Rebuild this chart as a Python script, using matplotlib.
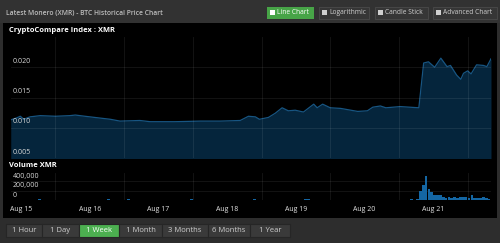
import matplotlib.pyplot as plt
from matplotlib.patches import Rectangle
import numpy as np

# price, days since Aug 15 00:00
price_t = [-0.15, -0.07, -0.01, 0.04, 0.13, 0.28, 0.50, 0.71, 0.79, 0.93,
           1.15, 1.30, 1.44, 1.73, 1.88, 2.24, 2.61, 2.90, 3.19, 3.31,
           3.41, 3.47, 3.60, 3.70, 3.80, 3.89, 3.99, 4.11, 4.26, 4.31,
           4.39, 4.50, 4.65, 4.80, 4.90, 5.04, 5.12, 5.23, 5.31, 5.52,
           5.79, 5.86, 5.93, 6.02, 6.11, 6.20, 6.25, 6.34, 6.40, 6.44,
           6.50, 6.55, 6.63, 6.73, 6.78, 6.84]
price_v = [0.0113, 0.0116, 0.0119, 0.0114, 0.0118, 0.0120, 0.0119, 0.0120, 0.0121, 0.0119,
           0.0116, 0.0114, 0.0111, 0.0112, 0.0110, 0.0110, 0.0111, 0.0111, 0.0112, 0.0119,
           0.0118, 0.0114, 0.0117, 0.0124, 0.0133, 0.0128, 0.0129, 0.0126, 0.0139, 0.0133,
           0.0139, 0.0133, 0.0132, 0.0129, 0.0127, 0.0128, 0.0134, 0.0136, 0.0133, 0.0135,
           0.0133, 0.0207, 0.0209, 0.0200, 0.0215, 0.0201, 0.0203, 0.0187, 0.0180, 0.0190,
           0.0194, 0.0189, 0.0204, 0.0203, 0.0201, 0.0214]

# hourly volume (thousands), first bar Aug 14 21:00
vol_k = [6, 8, 5,
         7, 9, 6, 8, 10, 7, 22, 9, 6, 8, 7, 6, 9, 8, 7, 6, 8, 9, 7, 6, 8, 7, 9, 6,
         8, 7, 6, 9, 8, 7, 25, 8, 6, 7, 9, 8, 6, 22, 7, 8, 6, 9, 7, 8, 6, 7, 9, 8,
         6, 7, 8, 9, 6, 7, 8, 6, 9, 7, 8, 20, 6, 7, 9, 8, 6, 7, 8, 9, 6, 7, 8, 6,
         9, 7, 6, 8, 7, 9, 6, 8, 7, 22, 8, 6, 7, 9, 8, 6, 7, 8, 9, 6, 7, 8, 6, 9,
         7, 8, 6, 28, 24, 7, 8, 9, 6, 7, 8, 6, 9, 7, 8, 6, 7, 9, 8, 6, 7, 8, 9, 6,
         7, 8, 6, 9, 7, 8, 6, 7, 9, 8, 6, 7, 8, 9, 6, 7, 12, 10, 14, 180, 310, 500,
         230, 170, 110, 100, 110, 60, 50, 55, 50, 55, 50, 55, 60, 55, 50, 100, 50, 45,
         50, 65, 40, 20]
vol_t = [(-3 + i) / 24 for i in range(len(vol_k))]
vol = [v * 1000 for v in vol_k]

days = [0, 1, 2, 3, 4, 5, 6]
day_labels = ["Aug 15", "Aug 16", "Aug 17", "Aug 18", "Aug 19", "Aug 20", "Aug 21"]
price_ticks = [0.005, 0.010, 0.015, 0.020]
vol_ticks = [0, 200000, 400000]
vol_tick_labels = ["0", "200,000", "400,000"]
top_buttons = ["Line Chart", "Logarithmic", "Candle Stick", "Advanced Chart"]
range_buttons = ["1 Hour", "1 Day", "1 Week", "1 Month", "3 Months", "6 Months", "1 Year"]

W, H = 500, 243
plt.rcParams['font.family'] = ["Open Sans", "DejaVu Sans"]

fig = plt.figure(figsize=(W / 100, H / 100), dpi=100, facecolor='#2d2d2d')


def box(x0, y0, x1, y1, fc, ec='none', lw=0.6, z=-5):
    # pixel box, y measured from top
    fig.patches.append(Rectangle((x0 / W, 1 - y1 / H), (x1 - x0) / W, (y1 - y0) / H,
                                 transform=fig.transFigure, facecolor=fc,
                                 edgecolor=ec, linewidth=lw, zorder=z))


def ptext(x, y, s, **kw):
    fig.text(x / W, 1 - y / H, s, **kw)


# header + black panel
box(0, 0, 500, 23, '#323232')
box(3, 23, 497, 218, '#000000')
box(0, 218, 500, 243, '#2d2d2d')
ptext(6, 14, "Latest Monero (XMR) - BTC Historical Price Chart", color='#bdbdbd',
      fontsize=4.9, va='center', ha='left', fontweight='semibold')

# top buttons
tb = [(267, 314), (319, 369), (375, 428), (433, 497)]
for (a, b), name in zip(tb, top_buttons):
    green = name == "Line Chart"
    box(a, 7, b, 19, '#47a447' if green else '#363636', '#4a4a4a' if not green else 'none')
    box(a + 3, 10.5, a + 8, 15.5, '#ffffff' if green else '#cfcfcf', z=-4)
    ptext(a + 10, 13, name, color='#ffffff' if green else '#d0d0d0', fontsize=4.8,
          va='center', ha='left')

ptext(9, 30, "CryptoCompare Index : XMR", color='white', fontsize=5.4,
      fontweight='bold', va='center', ha='left')
ptext(9, 165, "Volume XMR", color='white', fontsize=5.4,
      fontweight='bold', va='center', ha='left')

grid_kw = dict(color='#ffffff', alpha=0.09, lw=0.6)
xlim = (-0.146, 6.84)

# price panel
ax = fig.add_axes([11 / W, 1 - 158 / H, 480 / W, 121 / H])
ax.set_facecolor('none')
ax.fill_between(price_t, price_v, 0.0, color='#05253c', lw=0)
ax.plot(price_t, price_v, color='#175582', lw=0.9)
ax.set_xlim(*xlim)
ax.set_ylim(0.005, 0.025)
ax.set_yticks(price_ticks)
ax.set_xticks([d + 0.5 for d in days])
ax.grid(True, **grid_kw)
ax.set_axisbelow(False)
ax.tick_params(length=0, labelleft=False, labelbottom=False)
for s in ax.spines.values():
    s.set_visible(False)
for v in price_ticks:
    ax.text(0.003, v + 0.0004, "%.3f" % v, transform=ax.get_yaxis_transform(),
            color='#d8d8d8', fontsize=5.0, va='bottom', ha='left')

# volume panel
axv = fig.add_axes([11 / W, 1 - 200 / H, 480 / W, 27 / H])
axv.set_facecolor('none')
axv.bar(vol_t, vol, width=1 / 24 * 0.95, color='#1466a3', align='edge', lw=0)
axv.set_xlim(*xlim)
axv.set_ylim(0, 570000)
axv.set_yticks(vol_ticks)
axv.set_xticks(days)
axv.set_xticklabels(day_labels, color='#e0e0e0', fontsize=5.0)
axv.set_xticks([d + 0.5 for d in days], minor=True)
axv.grid(True, which='minor', axis='x', **grid_kw)
axv.grid(True, which='major', axis='y', **grid_kw)
axv.set_axisbelow(True)
axv.tick_params(which='both', length=0, labelleft=False, pad=4)
for s in axv.spines.values():
    s.set_visible(False)
for v, lab in zip(vol_ticks, vol_tick_labels):
    axv.text(0.003, v + 25000, lab, transform=axv.get_yaxis_transform(),
             color='#d8d8d8', fontsize=5.0, va='bottom', ha='left')

# range buttons
rb = [(6, 42), (42, 79), (79, 119), (119, 162), (162, 208), (208, 250), (250, 290)]
for (a, b), name in zip(rb, range_buttons):
    green = name == "1 Week"
    box(a, 224, b, 237, '#4caf50' if green else '#3a3a3a', '#262626', 0.8)
    ptext((a + b) / 2, 230.5, name, color='#ffffff' if green else '#cfcfcf',
          fontsize=5.5, va='center', ha='center')

fig.savefig("out.png", dpi=100, facecolor=fig.get_facecolor())
